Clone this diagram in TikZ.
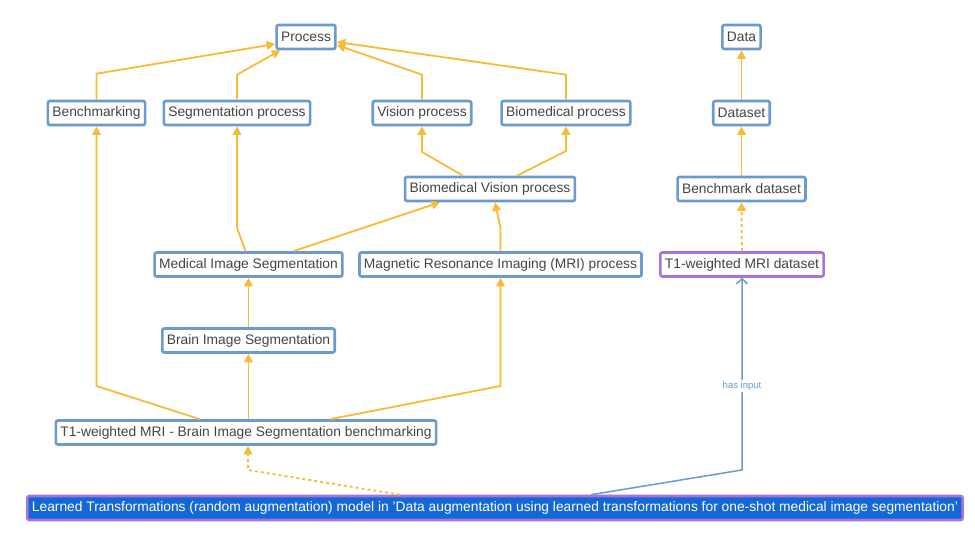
\documentclass[tikz,border=0pt]{standalone}
\usepackage{fontspec}
\setmainfont{Liberation Sans}
\usetikzlibrary{positioning,arrows.meta,calc}

\definecolor{boxblue}{HTML}{6A9AD0}
\definecolor{linkorange}{HTML}{F9BB33}
\definecolor{modpurple}{HTML}{A872DC}
\definecolor{modfill}{HTML}{1467D6}
\definecolor{txtgray}{HTML}{444444}

\begin{document}
\begin{tikzpicture}[x=1pt, y=-1pt,
    concept/.style={rectangle, rounded corners=2pt, draw=boxblue, line width=2.6pt, fill=white, minimum height=24pt, inner xsep=4.5pt, text=txtgray, font=\fontsize{13.8}{15}\selectfont},
    dataset/.style={concept, draw=modpurple},
    model/.style={concept, draw=modpurple, fill=modfill, text=white},
    link/.style={draw=linkorange, line width=1.8pt, -{Triangle[length=8.5pt,width=8.5pt]}},
    optional/.style={link, dashed},
    hasinput/.style={draw=boxblue, line width=1.5pt, -{Straight Barb[length=5pt,width=11pt]}}]

\useasboundingbox (0,0) rectangle (975,534);

% Top level
\node[concept] (process) at (306,37) {Process};
\node[concept] (data) at (741.5,37) {Data};

% Process types
\node[concept] (bench) at (96.5,113) {Benchmarking};
\node[concept] (segproc) at (237,113) {Segmentation process};
\node[concept] (visproc) at (422,113) {Vision process};
\node[concept] (bioproc) at (566,113) {Biomedical process};
\node[concept] (dataset) at (741.5,113) {Dataset};

% Middle level
\node[concept] (biovis) at (490,189) {Biomedical Vision process};
\node[concept] (benchdata) at (741.5,189) {Benchmark dataset};
\node[concept] (medseg) at (248.5,264.5) {Medical Image Segmentation};
\node[concept] (mriproc) at (500.5,264.5) {Magnetic Resonance Imaging (MRI) process};
\node[dataset] (t1data) at (742,264.5) {T1-weighted MRI dataset};
\node[concept] (brainseg) at (248.5,340.5) {Brain Image Segmentation};

% Task and model
\node[concept] (task) at (246,432.5) {T1-weighted MRI - Brain Image Segmentation benchmarking};
\node[model] (learned) at (495,508) {Learned Transformations (random augmentation) model in 'Data augmentation using learned transformations for one-shot medical image segmentation'};

% Connections
\draw[link] (bench.north) -- ++(0,-26) -- ($(process.west)+(0,7)$);
\draw[link] (segproc.north) -- ++(0,-25) -- ($(process.south west)+(5,0)$);
\draw[link] (visproc.north) -- ++(0,-25) -- ($(process.east)+(0,8)$);
\draw[link] (bioproc.north) -- ++(0,-25) -- ($(process.east)+(0,5)$);
\draw[link] (dataset) -- (data);
\draw[link] (benchdata) -- (dataset);
\draw[link] ($(biovis.north)+(-27,0)$) -- (422,152) -- (visproc.south);
\draw[link] ($(biovis.north)+(27,0)$) -- (566,151) -- (bioproc.south);
\draw[link] ($(medseg.north)+(-3,0)$) -- (237,228) -- (segproc.south);
\draw[link] ($(medseg.north)+(45,0)$) -- ($(biovis.south)+(-50,0)$);
\draw[link] (mriproc.north) -- (500.5,228) -- ($(biovis.south)+(5,0)$);
\draw[optional] (t1data) -- (benchdata);
\draw[link] (brainseg) -- (medseg);
\draw[link] ($(task.north)+(-46,0)$) -- (96.5,386) -- (bench.south);
\draw[link] (task.north -| brainseg) -- (brainseg.south);
\draw[link] ($(task.north)+(84,0)$) -- (500.5,386) -- (mriproc.south);
\draw[optional] ($(learned.north)+(-95,0)$) -- (248,470) -- ($(task.south)+(2,0)$);
\draw[hasinput] ($(learned.north)+(96,0)$) -- (742,470) -- node[fill=white, text=boxblue, font=\fontsize{9.5}{10}\selectfont, inner sep=1.5pt, pos=0.435] {has input} (t1data.south);

\end{tikzpicture}
\end{document}
